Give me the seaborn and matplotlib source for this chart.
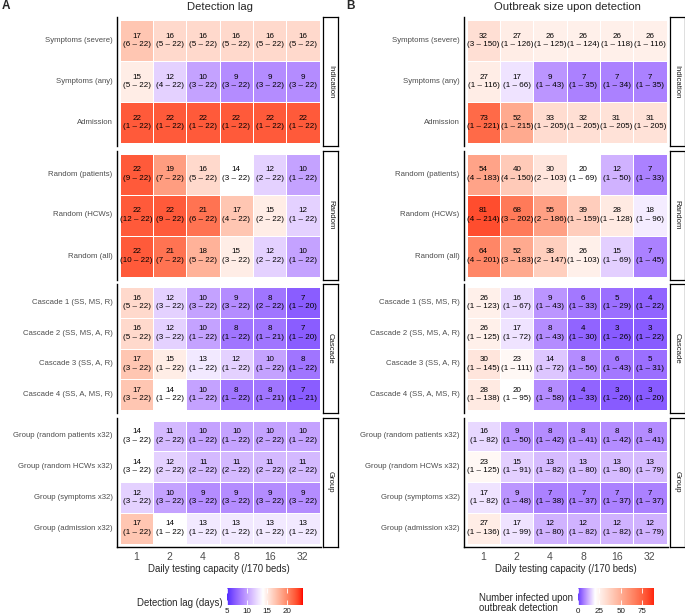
import numpy as np
import pandas as pd
import matplotlib
matplotlib.use("Agg")
import matplotlib.pyplot as plt
import matplotlib.colors as mcolors
import seaborn as sns

# ---- data ----
capacity = [1, 2, 4, 8, 16, 32]
groups = ["Indication", "Random", "Cascade", "Group"]
strategies = [
    "Symptoms (severe)", "Symptoms (any)", "Admission",
    "Random (patients)", "Random (HCWs)", "Random (all)",
    "Cascade 1 (SS, MS, R)", "Cascade 2 (SS, MS, A, R)",
    "Cascade 3 (SS, A, R)", "Cascade 4 (SS, A, MS, R)",
    "Group (random patients x32)", "Group (random HCWs x32)",
    "Group (symptoms x32)", "Group (admission x32)",
]
strategy_group = ["Indication"] * 3 + ["Random"] * 3 + ["Cascade"] * 4 + ["Group"] * 4

# detection lag (days): median, lower, upper
lag_med = [
    [17, 16, 16, 16, 16, 16], [15, 12, 10, 9, 9, 9], [22, 22, 22, 22, 22, 22],
    [22, 19, 16, 14, 12, 10], [22, 22, 21, 17, 15, 12], [22, 21, 18, 15, 12, 10],
    [16, 12, 10, 9, 8, 7], [16, 12, 10, 8, 8, 7], [17, 15, 13, 12, 10, 8], [17, 14, 10, 8, 8, 7],
    [14, 11, 10, 10, 10, 10], [14, 12, 11, 11, 11, 11], [12, 10, 9, 9, 9, 9], [17, 14, 13, 13, 13, 13],
]
lag_lo = [
    [6, 5, 5, 5, 5, 5], [5, 4, 3, 3, 3, 3], [1, 1, 1, 1, 1, 1],
    [9, 7, 5, 3, 2, 1], [12, 9, 6, 4, 2, 1], [10, 7, 5, 3, 2, 1],
    [5, 3, 3, 3, 2, 1], [5, 3, 1, 1, 1, 1], [3, 1, 1, 1, 1, 1], [3, 1, 1, 1, 1, 1],
    [3, 2, 1, 1, 2, 1], [3, 2, 2, 2, 2, 2], [3, 3, 3, 3, 3, 3], [1, 1, 1, 1, 1, 1],
]
lag_hi = [
    [22, 22, 22, 22, 22, 22], [22, 22, 22, 22, 22, 22], [22, 22, 22, 22, 22, 22],
    [22, 22, 22, 22, 22, 22], [22, 22, 22, 22, 22, 22], [22, 22, 22, 22, 22, 22],
    [22, 22, 22, 22, 22, 20], [22, 22, 22, 22, 21, 20], [22, 22, 22, 22, 22, 22], [22, 22, 22, 22, 21, 21],
    [22, 22, 22, 22, 22, 22], [22, 22, 22, 22, 22, 22], [22, 22, 22, 22, 22, 22], [22, 22, 22, 22, 22, 22],
]

# outbreak size upon detection: median, lower, upper
size_med = [
    [32, 27, 26, 26, 26, 26], [27, 17, 9, 7, 7, 7], [73, 52, 33, 32, 31, 31],
    [54, 40, 30, 20, 12, 7], [81, 68, 55, 39, 28, 18], [64, 52, 38, 26, 15, 7],
    [26, 16, 9, 6, 5, 4], [26, 17, 8, 4, 3, 3], [30, 23, 14, 8, 6, 5], [28, 20, 8, 4, 3, 3],
    [16, 9, 8, 8, 8, 8], [23, 15, 13, 13, 13, 13], [17, 9, 7, 7, 7, 7], [27, 17, 12, 12, 12, 12],
]
size_lo = [
    [3, 1, 1, 1, 1, 1], [1, 1, 1, 1, 1, 1], [1, 1, 1, 1, 1, 1],
    [4, 4, 2, 1, 1, 1], [4, 3, 2, 1, 1, 1], [4, 3, 2, 1, 1, 1],
    [1, 1, 1, 1, 1, 1], [1, 1, 1, 1, 1, 1], [1, 1, 1, 1, 1, 1], [1, 1, 1, 1, 1, 1],
    [1, 1, 1, 1, 1, 1], [1, 1, 1, 1, 1, 1], [1, 1, 1, 1, 1, 1], [1, 1, 1, 1, 1, 1],
]
size_hi = [
    [150, 126, 125, 124, 118, 116], [116, 66, 43, 35, 34, 35], [221, 215, 205, 205, 205, 205],
    [183, 150, 103, 69, 50, 33], [214, 202, 186, 159, 128, 96], [201, 183, 147, 103, 69, 45],
    [123, 67, 43, 33, 29, 22], [125, 72, 43, 30, 26, 22], [145, 111, 72, 56, 43, 31], [138, 95, 58, 33, 26, 20],
    [82, 50, 42, 41, 42, 41], [125, 91, 82, 80, 80, 79], [82, 48, 38, 37, 37, 37], [136, 99, 80, 82, 82, 79],
]

# ---- blue-white-red scale interpolated in Lab (like ggplot's gradient2) ----
M = np.array([[0.4124, 0.3576, 0.1805], [0.2126, 0.7152, 0.0722], [0.0193, 0.1192, 0.9505]])
WHITE = np.array([0.95047, 1.0, 1.08883])


def to_lab(col):
    rgb = np.array(mcolors.to_rgb(col))
    lin = np.where(rgb <= 0.04045, rgb / 12.92, ((rgb + 0.055) / 1.055) ** 2.4)
    xyz = M @ lin / WHITE
    f = np.where(xyz > 0.008856, np.cbrt(xyz), 7.787 * xyz + 16 / 116)
    return np.array([116 * f[1] - 16, 500 * (f[0] - f[1]), 200 * (f[1] - f[2])])


def from_lab(lab):
    fy = (lab[0] + 16) / 116
    f = np.array([fy + lab[1] / 500, fy, fy - lab[2] / 200])
    xyz = np.where(f > 0.2069, f ** 3, (f - 16 / 116) / 7.787) * WHITE
    lin = np.clip(np.linalg.solve(M, xyz), 0, None)
    rgb = np.where(lin <= 0.0031308, 12.92 * lin, 1.055 * lin ** (1 / 2.4) - 0.055)
    return np.clip(rgb, 0, 1)


lo_lab, mid_lab, hi_lab = to_lab("blue"), to_lab("white"), to_lab("red")
cols = [from_lab(lo_lab + (mid_lab - lo_lab) * t) for t in np.linspace(0, 1, 128)]
cols += [from_lab(mid_lab + (hi_lab - mid_lab) * t) for t in np.linspace(0, 1, 128)]
cmap = mcolors.ListedColormap(cols)

lag_norm = mcolors.TwoSlopeNorm(vmin=4, vcenter=14, vmax=24)
size_norm = mcolors.TwoSlopeNorm(vmin=-4, vcenter=20, vmax=92)

# ---- layout (pixel based) ----
W, H = 685, 615
sns.set_style("white")
plt.rcParams["font.family"] = ["Liberation Sans", "DejaVu Sans"]
fig = plt.figure(figsize=(W / 100, H / 100), dpi=100)

PANEL_TOP, PANEL_H, PANEL_GAP = 17, 129, 4.5
GREY = "#4d4d4d"


def px(x0, y0, x1, y1):
    return [x0 / W, 1 - y1 / H, (x1 - x0) / W, (y1 - y0) / H]


def draw_panel(med, lo, hi, norm, x0, x1, sx0, sx1):
    df = pd.DataFrame(med, index=strategies, columns=capacity)
    labels = np.array([[f"{m}\n({a} – {b})" for m, a, b in zip(r1, r2, r3)]
                       for r1, r2, r3 in zip(med, lo, hi)])
    for k, g in enumerate(groups):
        rows = [i for i, s in enumerate(strategy_group) if s == g]
        n = len(rows)
        top = PANEL_TOP + k * (PANEL_H + PANEL_GAP)
        ax = fig.add_axes(px(x0, top, x1, top + PANEL_H))
        sns.heatmap(df.iloc[rows], ax=ax, cmap=cmap, norm=norm, cbar=False,
                    annot=labels[rows], fmt="",
                    annot_kws=dict(color="black", fontsize=5.8, linespacing=1.3),
                    linewidths=0.7, linecolor="white")
        pad_y = 3 * n / (PANEL_H - 6)
        ax.set_xlim(-0.09, 6.03)
        ax.set_ylim(n + pad_y, -pad_y)
        ax.set_xlabel("")
        ax.set_ylabel("")
        for sp in ax.spines.values():
            sp.set_visible(False)
        ax.spines["left"].set_visible(True)
        ax.spines["left"].set_linewidth(1.0)
        ax.spines["left"].set_color("black")
        ax.tick_params(axis="y", length=2.2, width=0.6, color="#333333", pad=1,
                       labelsize=5.6, labelcolor=GREY, rotation=0)
        if k == len(groups) - 1:
            ax.spines["bottom"].set_visible(True)
            ax.spines["bottom"].set_linewidth(1.0)
            ax.spines["bottom"].set_color("black")
            ax.tick_params(axis="x", length=2.2, width=0.6, color="#333333", pad=1.5,
                           labelsize=7.5, labelcolor=GREY, rotation=0)
            ax.set_xlabel("Daily testing capacity (/170 beds)", fontsize=6.9, labelpad=2)
        else:
            ax.tick_params(axis="x", bottom=False, labelbottom=False)

        # facet strip
        sax = fig.add_axes(px(sx0, top, sx1, top + PANEL_H))
        sax.set_xticks([])
        sax.set_yticks([])
        for sp in sax.spines.values():
            sp.set_visible(True)
            sp.set_color("black")
            sp.set_linewidth(0.9)
        sax.text(0.5, 0.5, g, rotation=-90, ha="center", va="center",
                 fontsize=5.6, color="#1a1a1a", transform=sax.transAxes)


def draw_cbar(norm, lo, hi, ticks, x0, x1, title, tx):
    cax = fig.add_axes(px(x0, 588, x1, 605))
    grad = np.linspace(lo, hi, 300)[None, :]
    cax.imshow(grad, extent=[lo, hi, 0, 1], aspect="auto", cmap=cmap, norm=norm)
    cax.set_yticks([])
    cax.set_xticks(ticks)
    for sp in cax.spines.values():
        sp.set_visible(False)
    cax.tick_params(axis="x", direction="in", color="white", length=3.4, width=0.6,
                    top=True, bottom=True, labelsize=5.8, labelcolor="#1a1a1a", pad=2)
    fig.text(tx / W, 1 - 603 / H, title, ha="left", va="center", fontsize=6.9,
             linespacing=1.1)


draw_panel(lag_med, lag_lo, lag_hi, lag_norm, 117, 320.5, 323, 338)
draw_panel(size_med, size_lo, size_hi, size_norm, 464, 667.5, 670, 684.5)

draw_cbar(lag_norm, 5, 24, [5, 10, 15, 20], 227, 303, "Detection lag (days)", 137)
draw_cbar(size_norm, 0, 89, [0, 25, 50, 75], 578, 654,
          "Number infected upon\noutbreak detection", 479)

fig.text(219.5 / W, 1 - 7 / H, "Detection lag", ha="center", va="center", fontsize=8.1)
fig.text(567 / W, 1 - 7 / H, "Outbreak size upon detection", ha="center", va="center", fontsize=8.1)
fig.text(2 / W, 1 - 6 / H, "A", ha="left", va="center", fontsize=8.5, fontweight="bold")
fig.text(346 / W, 1 - 6 / H, "B", ha="left", va="center", fontsize=8.5, fontweight="bold")

fig.savefig("out.png", dpi=100)
